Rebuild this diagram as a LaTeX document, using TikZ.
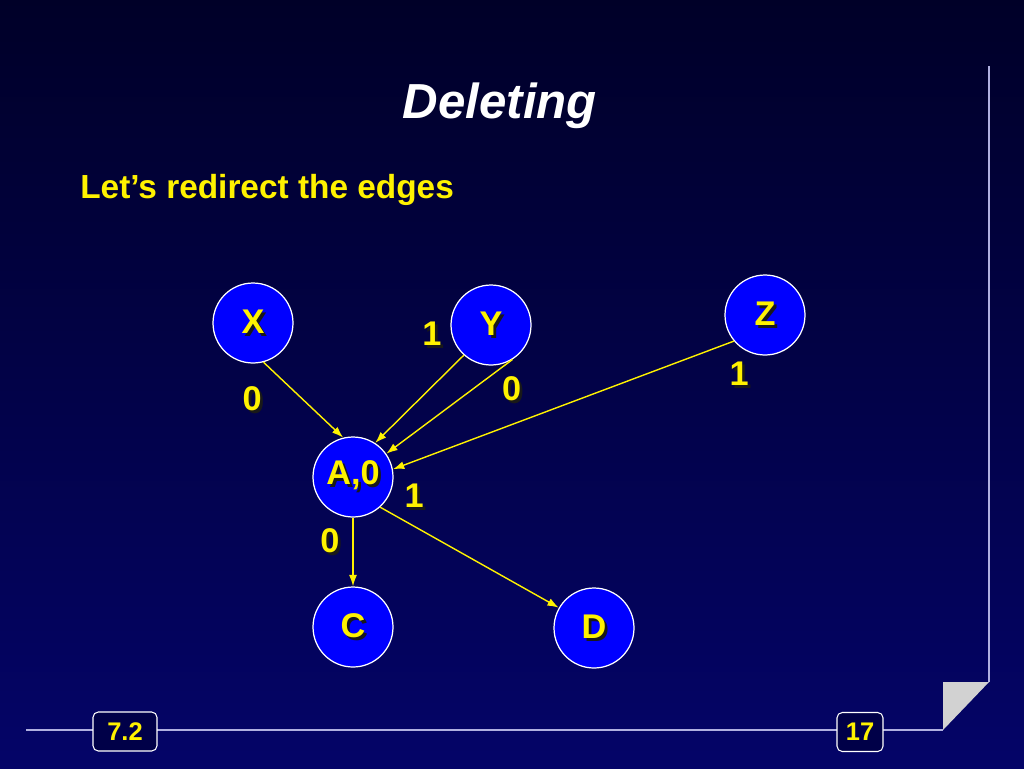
\documentclass[tikz,border=0pt]{standalone}
\usepackage{fontspec}
\setmainfont{Liberation Sans}
\usetikzlibrary{arrows.meta}
\definecolor{bgtop}{RGB}{0,0,40}
\definecolor{bgbot}{RGB}{4,4,104}
\definecolor{framecol}{RGB}{176,176,224}
\definecolor{nodeblue}{RGB}{0,0,255}
\definecolor{boxfill}{RGB}{0,0,72}
\newcommand{\shad}[1]{\makebox[0pt][l]{\hspace{1.6pt}\raisebox{-1.6pt}{\textcolor{black!90}{#1}}}#1}
\tikzset{
  vertex/.style={circle,draw=white,line width=0.7pt,fill=nodeblue,minimum size=1.6cm,inner sep=0pt,
    text=yellow,font=\fontsize{19.5}{23}\selectfont\bfseries},
  elabel/.style={text=yellow,font=\fontsize{19.5}{23}\selectfont\bfseries},
  numbox/.style={draw=white,line width=0.6pt,rounded corners=3pt,fill=boxfill,minimum height=0.78cm,
    text=yellow,font=\fontsize{14.5}{16}\selectfont\bfseries},
  framel/.style={draw=framecol,line width=1.1pt}
}

\begin{document}
\begin{tikzpicture}[>={Latex[length=6.5pt,width=4.5pt]},x=0.02cm,y=-0.02cm]
\useasboundingbox (0,0) rectangle (1024,768);
\shade[top color=bgtop,bottom color=bgbot] (0,0) rectangle (1024,768);

% slide frame
\draw[framel] (26,730) -- (943,730);
\draw[framel] (989,66) -- (989,682);
\fill[gray!35] (943,682) -- (989,682) -- (943,730) -- cycle;
\node[numbox,minimum width=1.28cm](sec) at (125,731.5) {7.2};
\node[numbox,minimum width=0.92cm](page) at (860,732) {17};

\node[anchor=base,text=white,font=\fontsize{28}{32}\selectfont\bfseries\itshape](title) at (500,118) {Deleting};
\node[anchor=base west,inner sep=0pt,text=yellow,font=\fontsize{19}{23}\selectfont\bfseries](sub) at (80,198) {Let’s redirect the edges};

\node[vertex](X) at (253,323) {\shad{X}};
\node[vertex](Y) at (491,325) {\shad{Y}};
\node[vertex](Z) at (765,315) {\shad{Z}};
\node[vertex](A) at (353,477) {\shad{A,0}};
\node[vertex](C) at (353,627) {\shad{C}};
\node[vertex](D) at (594,628) {\shad{D}};

\draw[->,yellow,line width=0.8pt] (X.285) to node[elabel,left=20pt,pos=.5](lx){\shad{0}} (A.104);
\draw[->,yellow,line width=0.8pt] (Y.228) to node[elabel,above left,pos=0,xshift=-9pt](ly1){\shad{1}} (A.57);
\draw[->,yellow,line width=0.8pt] (Y.302) to node[elabel,right=14pt,pos=.33](ly0){\shad{0}} (A.35);
\draw[->,yellow,line width=0.8pt] (Z.220) to node[elabel,below=8pt,pos=0,xshift=3pt](lz){\shad{1}} (A.11);

\draw[->,yellow,line width=0.8pt] (A.270) to node[elabel,left=4pt,pos=.36](lc){\shad{0}} (C.90);
\draw[->,yellow,line width=0.8pt] (A.312) to node[elabel,above right,pos=.1](ld){\shad{1}} (D.150);
\end{tikzpicture}
\end{document}
